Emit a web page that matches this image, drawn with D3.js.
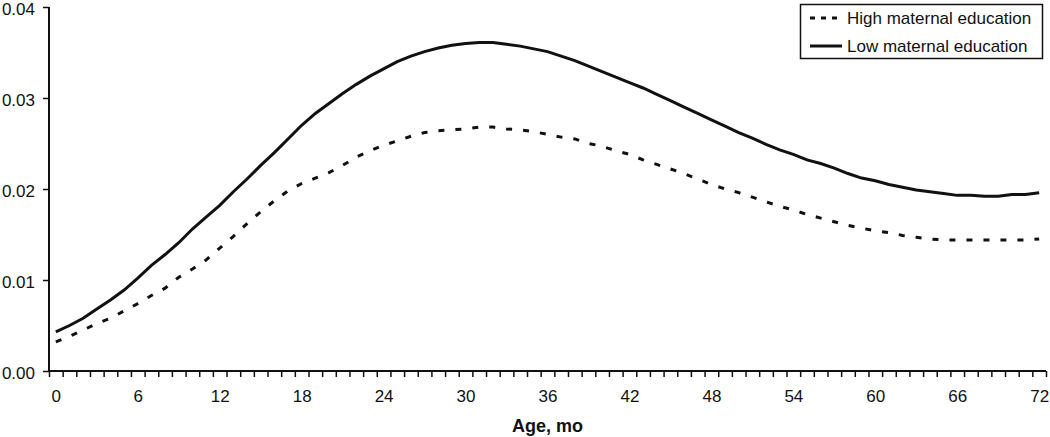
<!DOCTYPE html>
<html>
<head>
<meta charset="utf-8">
<script src="https://cdn.jsdelivr.net/npm/d3@7"></script>
<style>
  body { margin: 0; background: #fff; }
  text { font-family: "Liberation Sans", Arial, sans-serif; fill: #111; }
</style>
</head>
<body>
<div id="chart"></div>
<script>
// months 0..72
const months = d3.range(0, 73);

const lowEdu = [
  0.0043, 0.0050, 0.0058, 0.0068, 0.0078, 0.0089, 0.0102, 0.0116, 0.0128, 0.0141,
  0.0156, 0.0169, 0.0182, 0.0197, 0.0211, 0.0226, 0.0240, 0.0255, 0.0270, 0.0283,
  0.0294, 0.0305, 0.0315, 0.0324, 0.0332, 0.0340, 0.0346, 0.0351, 0.0355, 0.0358,
  0.0360, 0.0361, 0.0361, 0.0359, 0.0357, 0.0354, 0.0351, 0.0346, 0.0341, 0.0335,
  0.0329, 0.0323, 0.0317, 0.0311, 0.0304, 0.0297, 0.0290, 0.0283, 0.0276, 0.0269,
  0.0262, 0.0256, 0.0249, 0.0243, 0.0238, 0.0232, 0.0228, 0.0223, 0.0217, 0.0212,
  0.0209, 0.0205, 0.0202, 0.0199, 0.0197, 0.0195, 0.0193, 0.0193, 0.0192, 0.0192,
  0.0194, 0.0194, 0.0196
];

const highEdu = [
  0.0032, 0.0038, 0.0045, 0.0052, 0.0058, 0.0066, 0.0074, 0.0083, 0.0091, 0.0103,
  0.0112, 0.0122, 0.0135, 0.0148, 0.0162, 0.0175, 0.0187, 0.0198, 0.0206, 0.0212,
  0.0218, 0.0226, 0.0235, 0.0242, 0.0248, 0.0253, 0.0258, 0.0262, 0.0264, 0.0265,
  0.0266, 0.0268, 0.0268, 0.0266, 0.0265, 0.0263, 0.0260, 0.0257, 0.0255, 0.0250,
  0.0247, 0.0242, 0.0238, 0.0232, 0.0227, 0.0222, 0.0217, 0.0211, 0.0205, 0.0200,
  0.0196, 0.0191, 0.0186, 0.0181, 0.0177, 0.0172, 0.0168, 0.0164, 0.0160, 0.0157,
  0.0154, 0.0152, 0.0149, 0.0147, 0.0145, 0.0144, 0.0144, 0.0144, 0.0144, 0.0144,
  0.0144, 0.0144, 0.0145
];

const xLabels = d3.range(0, 73, 6);
const yTicks = [0, 0.01, 0.02, 0.03, 0.04];
const seriesNames = ["High maternal education", "Low maternal education"];

const width = 1050, height = 437;

const svg = d3.select("#chart")
  .append("svg")
  .attr("width", width)
  .attr("height", height);

const x = d3.scaleLinear().domain([-0.5, 72.5]).range([49, 1046]);
const y = d3.scaleLinear().domain([0, 0.04]).range([371, 7]);

// y axis
const yAxis = svg.append("g")
  .attr("transform", "translate(49,0)")
  .call(d3.axisLeft(y).tickValues(yTicks).tickFormat(d3.format(".2f")).tickSize(6).tickPadding(8));
yAxis.select(".domain").attr("stroke", "#111").attr("stroke-width", 2).attr("d", "M0," + y(0.04) + "V" + y(0));
yAxis.selectAll(".tick line").attr("stroke", "#111").attr("stroke-width", 1.5);
yAxis.selectAll("text").style("font-size", "17px").attr("dy", "0.45em");

// x axis ticks between categories
const xTicks = svg.append("g")
  .attr("transform", "translate(0,371)")
  .call(d3.axisBottom(x).tickValues(d3.range(-0.5, 73, 1)).tickFormat("").tickSize(6));
xTicks.select(".domain").attr("stroke", "#111").attr("stroke-width", 2).attr("d", "M49,0H1046");
xTicks.selectAll(".tick line").attr("stroke", "#111").attr("stroke-width", 1.5);

// x labels
const xAxis = svg.append("g")
  .attr("transform", "translate(0,371)")
  .call(d3.axisBottom(x).tickValues(xLabels).tickSize(0).tickPadding(19));
xAxis.select(".domain").remove();
xAxis.selectAll("text").style("font-size", "17px");

svg.append("text")
  .attr("x", x(36))
  .attr("y", 432)
  .attr("text-anchor", "middle")
  .style("font-size", "18px")
  .style("font-weight", "bold")
  .text("Age, mo");

const line = d3.line()
  .x((d, i) => x(months[i]))
  .y(d => y(d));

svg.append("path")
  .datum(highEdu)
  .attr("fill", "none")
  .attr("stroke", "#111")
  .attr("stroke-width", 3)
  .attr("stroke-dasharray", "6,11")
  .attr("d", line);

svg.append("path")
  .datum(lowEdu)
  .attr("fill", "none")
  .attr("stroke", "#111")
  .attr("stroke-width", 3)
  .attr("d", line);

// legend
const legend = svg.append("g");
legend.append("rect")
  .attr("x", 800.5).attr("y", 4.5)
  .attr("width", 242).attr("height", 54)
  .attr("fill", "#fff").attr("stroke", "#111").attr("stroke-width", 1.5);

seriesNames.forEach((name, i) => {
  const ly = 18 + i * 28;
  legend.append("line")
    .attr("x1", 810).attr("x2", 842)
    .attr("y1", ly).attr("y2", ly)
    .attr("stroke", "#111").attr("stroke-width", 3)
    .attr("stroke-dasharray", i === 0 ? "5,6" : null);
  legend.append("text")
    .attr("x", 847).attr("y", ly)
    .attr("dy", "0.35em")
    .style("font-size", "17px")
    .text(name);
});
</script>
</body>
</html>
